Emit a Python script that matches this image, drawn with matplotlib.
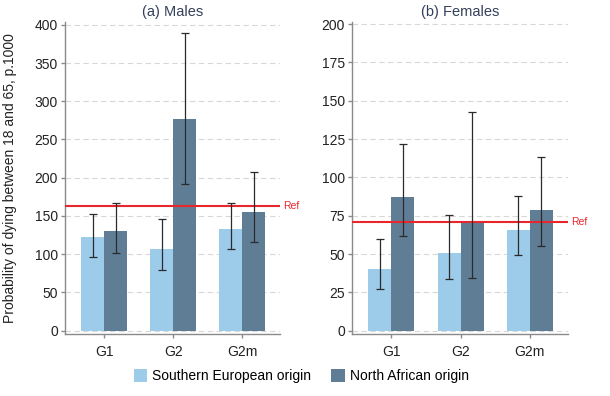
import numpy as np
import matplotlib.pyplot as plt
from matplotlib.patches import Patch
import matplotlib.transforms as mtransforms

plt.rcParams['font.family'] = ['Liberation Sans', 'DejaVu Sans']

# Dados
grupos = ['G1', 'G2', 'G2m']

homens_sul = [122, 107, 133]
homens_sul_lo = [96, 79, 107]
homens_sul_hi = [153, 146, 167]
homens_af = [131, 277, 155]
homens_af_lo = [102, 192, 116]
homens_af_hi = [167, 389, 207]
ref_homens = 163

mulheres_sul = [40.5, 50.5, 66]
mulheres_sul_lo = [27.5, 33.5, 49.5]
mulheres_sul_hi = [60, 75.5, 88]
mulheres_af = [87, 71, 79]
mulheres_af_lo = [61.5, 34.5, 55]
mulheres_af_hi = [122, 143, 113]
ref_mulheres = 71

cor_sul = '#9dcbea'
cor_af = '#5f7e95'
cinza = '#8a8a8a'

fig = plt.figure(figsize=(6.1, 3.96), dpi=100)
ax1 = fig.add_axes([0.1066, 0.1566, 0.3525, 0.7886])
ax2 = fig.add_axes([0.577, 0.1566, 0.354, 0.7886])

paineis = [
    (ax1, '(a) Males', homens_sul, homens_sul_lo, homens_sul_hi,
     homens_af, homens_af_lo, homens_af_hi, ref_homens, (-4.3, 404), np.arange(0, 401, 50)),
    (ax2, '(b) Females', mulheres_sul, mulheres_sul_lo, mulheres_sul_hi,
     mulheres_af, mulheres_af_lo, mulheres_af_hi, ref_mulheres, (-2.15, 201.6), np.arange(0, 201, 25)),
]

x = np.arange(len(grupos))
w = 0.333

for ax, titulo, sul, sul_lo, sul_hi, af, af_lo, af_hi, ref, ylim, yticks in paineis:
    for y in yticks:
        ax.axhline(y, color='#d8d8d8', lw=0.8, ls=(0, (5, 3)), zorder=0)
    ax.bar(x - w / 2, sul, w, color=cor_sul, zorder=2)
    ax.bar(x + w / 2, af, w, color=cor_af, zorder=2)
    sul = np.array(sul)
    af = np.array(af)
    ax.errorbar(x - w / 2, sul, yerr=[sul - np.array(sul_lo), np.array(sul_hi) - sul],
                fmt='none', ecolor='#2b2b2b', elinewidth=0.9, capsize=3, capthick=0.9, zorder=4)
    ax.errorbar(x + w / 2, af, yerr=[af - np.array(af_lo), np.array(af_hi) - af],
                fmt='none', ecolor='#2b2b2b', elinewidth=0.9, capsize=3, capthick=0.9, zorder=4)
    ax.axhline(ref, color='#e8262b', lw=1.5, zorder=3)
    trans = mtransforms.blended_transform_factory(ax.transAxes, ax.transData)
    ax.text(1.015, ref, 'Ref', color='#e8262b', fontsize=7.5, va='center', ha='left',
            transform=trans, clip_on=False)

    ax.set_xlim(-0.57, 2.55)
    ax.set_ylim(*ylim)
    ax.set_yticks(yticks)
    ax.set_xticks(x)
    ax.set_xticklabels(grupos)
    ax.set_title(titulo, fontsize=10.5, color='#34405a', pad=4)
    for lado in ['top', 'right']:
        ax.spines[lado].set_visible(False)
    for lado in ['left', 'bottom']:
        ax.spines[lado].set_color(cinza)
        ax.spines[lado].set_linewidth(1)
    ax.tick_params(axis='both', colors=cinza, labelcolor='#222222', labelsize=10,
                   length=3, width=1, direction='out', pad=2)
    ax.tick_params(axis='x', pad=5)

ax1.set_ylabel('Probability of dying between 18 and 65, p.1000', fontsize=10,
               color='#222222')
ax1.yaxis.set_label_coords(-0.225, 0.5)

handles = [Patch(facecolor=cor_sul, label='Southern European origin'),
           Patch(facecolor=cor_af, label='North African origin')]
fig.legend(handles=handles, loc='center', bbox_to_anchor=(0.494, 0.05), ncol=2,
           frameon=False, fontsize=10, handlelength=0.95, handleheight=1.05,
           handletextpad=0.38, columnspacing=1.45)

fig.savefig('out.png', dpi=100, facecolor='white')
